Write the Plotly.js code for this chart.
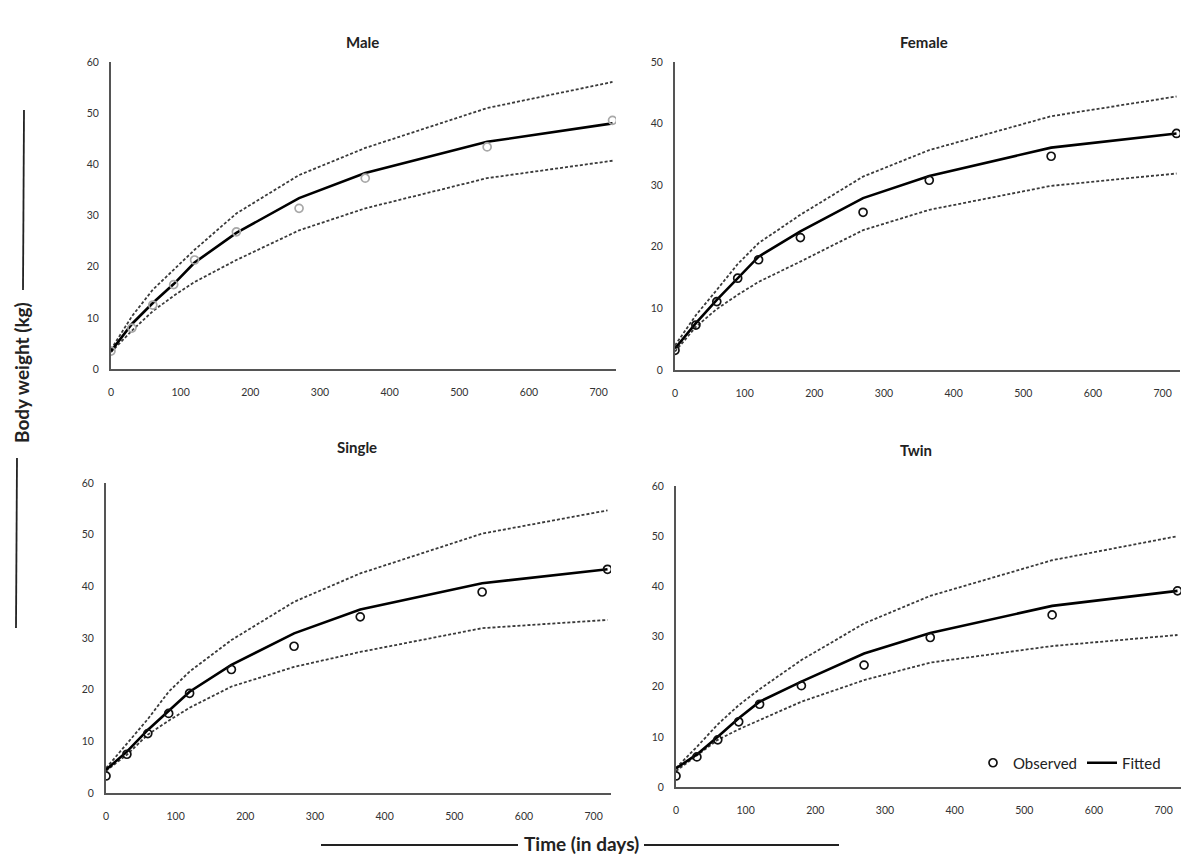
<!DOCTYPE html>
<html>
<head>
<meta charset="utf-8">
<script src="https://cdn.plot.ly/plotly-3.0.1.min.js"></script>
<style>html,body{margin:0;padding:0;background:#fff;}#chart{width:1195px;height:859px;}</style>
</head>
<body>
<div id="chart"></div>
<script>
// ---- data ----
const days = [0, 30, 60, 90, 120, 180, 270, 365, 540, 720];
const xTicks = [0, 100, 200, 300, 400, 500, 600, 700];
const panelTitles = ["Male", "Female", "Single", "Twin"];

const maleObserved = [3.5, 8.0, 12.5, 16.5, 21.3, 26.8, 31.4, 37.3, 43.4, 48.6];
const maleFitted   = [3.5, 8.8, 12.9, 16.6, 20.8, 26.6, 33.4, 38.3, 44.4, 48.0];
const maleUpper    = [3.8, 10.3, 15.5, 19.4, 23.3, 30.4, 37.9, 43.2, 51.0, 56.1];
const maleLower    = [3.3, 7.5, 11.3, 14.3, 17.0, 21.3, 27.1, 31.4, 37.3, 40.7];

const femaleObserved = [3.2, 7.3, 11.1, 14.9, 17.9, 21.5, 25.6, 30.8, 34.7, 38.4];
const femaleFitted   = [3.5, 7.6, 11.4, 14.9, 18.4, 22.5, 27.9, 31.5, 36.1, 38.4];
const femaleUpper    = [4.0, 8.9, 13.0, 17.2, 20.6, 25.2, 31.4, 35.7, 41.2, 44.4];
const femaleLower    = [3.0, 7.0, 9.9, 12.2, 14.3, 17.6, 22.7, 26.0, 29.9, 31.9];

const singleObserved = [3.3, 7.5, 11.5, 15.4, 19.3, 23.9, 28.4, 34.1, 38.9, 43.3];
const singleFitted   = [4.5, 8.0, 12.2, 15.9, 19.6, 24.8, 30.9, 35.5, 40.6, 43.3];
const singleUpper    = [4.8, 9.5, 14.3, 19.6, 23.5, 29.6, 37.0, 42.5, 50.2, 54.7];
const singleLower    = [4.3, 7.4, 11.3, 14.0, 16.5, 20.6, 24.4, 27.3, 31.9, 33.5];

const twinObserved = [2.2, 6.0, 9.4, 13.0, 16.5, 20.2, 24.3, 29.8, 34.3, 39.1];
const twinFitted   = [3.7, 6.5, 10.0, 13.7, 17.0, 21.0, 26.6, 30.7, 36.1, 39.1];
const twinUpper    = [3.8, 8.0, 12.5, 16.3, 19.5, 25.3, 32.6, 38.1, 45.2, 50.0];
const twinLower    = [3.2, 6.3, 9.4, 11.5, 13.3, 17.0, 21.3, 24.8, 28.1, 30.3];

const yMax = [60, 50, 60, 60];

// ---- layout helpers ----
const W = 1195, H = 859;
const px = v => v / W;
const py = v => 1 - v / H;

const panels = [
  {obs: maleObserved, fit: maleFitted, up: maleUpper, lo: maleLower, x0: 111, x1: 616, yTop: 62, yBot: 369, obsColor: '#a8a8a8', title: [362, 42]},
  {obs: femaleObserved, fit: femaleFitted, up: femaleUpper, lo: femaleLower, x0: 675, x1: 1180, yTop: 62, yBot: 370, obsColor: '#111', title: [924, 42]},
  {obs: singleObserved, fit: singleFitted, up: singleUpper, lo: singleLower, x0: 106, x1: 611, yTop: 483, yBot: 793, obsColor: '#111', title: [357, 447]},
  {obs: twinObserved, fit: twinFitted, up: twinUpper, lo: twinLower, x0: 676, x1: 1181, yTop: 486, yBot: 787, obsColor: '#111', title: [916, 450]}
];

const traces = [];
const layout = {
  width: W, height: H,
  margin: {l: 0, r: 0, t: 0, b: 0},
  paper_bgcolor: '#fff', plot_bgcolor: '#fff',
  showlegend: true,
  legend: {orientation: 'h', x: px(973), y: py(763), xanchor: 'left', yanchor: 'middle',
           font: {family: 'Lato, "Open Sans", sans-serif', size: 15, color: '#222'},
           bgcolor: 'rgba(0,0,0,0)', itemwidth: 30, tracegroupgap: 0},
  annotations: [],
  shapes: []
};

const tickFont = {family: 'Lato, "Open Sans", sans-serif', size: 10.5, color: '#333'};

panels.forEach((p, i) => {
  const n = i === 0 ? '' : String(i + 1);
  const xa = 'x' + n, ya = 'y' + n;
  const dashStyle = {color: '#3a3a3a', width: 1.8, dash: '3px,2px'};
  traces.push({x: days, y: p.up, xaxis: xa, yaxis: ya, mode: 'lines', line: dashStyle, showlegend: false});
  traces.push({x: days, y: p.lo, xaxis: xa, yaxis: ya, mode: 'lines', line: dashStyle, showlegend: false});
  traces.push({x: days, y: p.fit, xaxis: xa, yaxis: ya, mode: 'lines', name: 'Fitted',
               line: {color: '#000', width: 2.6}, showlegend: i === 3, legendrank: 2});
  traces.push({x: days, y: p.obs, xaxis: xa, yaxis: ya, mode: 'markers', name: 'Observed',
               marker: {symbol: 'circle-open', size: 8, color: p.obsColor, line: {width: 1.7, color: p.obsColor}},
               showlegend: i === 3, legendrank: 1});

  layout['xaxis' + n] = {
    domain: [px(p.x0), px(p.x1)], anchor: ya, range: [0, 725],
    tickvals: xTicks, ticks: '', showgrid: false, zeroline: false,
    showline: true, linecolor: '#555', linewidth: 2,
    tickfont: tickFont, ticklabelstandoff: 12, fixedrange: true
  };
  layout['yaxis' + n] = {
    domain: [py(p.yBot), py(p.yTop)], anchor: xa, range: [0, yMax[i]],
    dtick: 10, tick0: 0, ticks: '', showgrid: false, zeroline: false,
    showline: true, linecolor: '#555', linewidth: 2,
    tickfont: tickFont, ticklabelstandoff: 8, fixedrange: true
  };
  layout.annotations.push({
    text: panelTitles[i], xref: 'paper', yref: 'paper', x: px(p.title[0]), y: py(p.title[1]),
    xanchor: 'center', yanchor: 'middle', showarrow: false,
    font: {family: 'Lato, "Open Sans", sans-serif', size: 15, color: '#222', weight: 'bold'}
  });
});

// shared axis titles with decorative rules
const titleFont = {family: 'Lato, "Open Sans", sans-serif', size: 19, color: '#222', weight: 'bold'};
layout.annotations.push({
  text: 'Body weight (kg)', xref: 'paper', yref: 'paper', x: px(21), y: py(373),
  xanchor: 'center', yanchor: 'middle', showarrow: false, textangle: -90, font: titleFont
});
layout.annotations.push({
  text: 'Time (in days)', xref: 'paper', yref: 'paper', x: px(581), y: py(843),
  xanchor: 'center', yanchor: 'middle', showarrow: false, font: titleFont
});
const rule = {color: '#222', width: 1.8};
layout.shapes.push({type: 'line', xref: 'paper', yref: 'paper', x0: px(24), x1: px(23), y0: py(110), y1: py(290), line: rule});
layout.shapes.push({type: 'line', xref: 'paper', yref: 'paper', x0: px(17), x1: px(16), y0: py(458), y1: py(628), line: rule});
layout.shapes.push({type: 'line', xref: 'paper', yref: 'paper', x0: px(321), x1: px(518), y0: py(845), y1: py(845), line: rule});
layout.shapes.push({type: 'line', xref: 'paper', yref: 'paper', x0: px(644), x1: px(839), y0: py(845), y1: py(845), line: rule});

Plotly.newPlot('chart', traces, layout, {staticPlot: true, displayModeBar: false});
</script>
</body>
</html>
